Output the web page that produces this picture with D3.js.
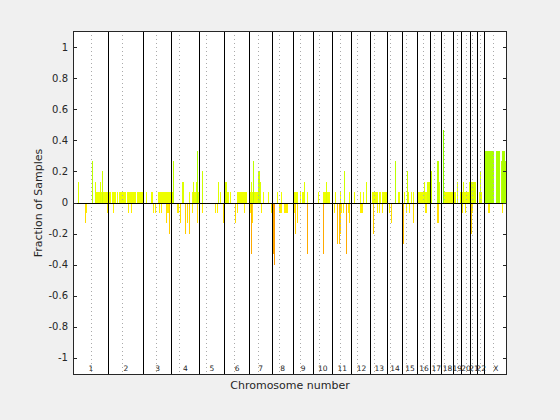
<!DOCTYPE html>
<html>
<head>
<meta charset="utf-8">
<script src="https://cdn.jsdelivr.net/npm/d3@7"></script>
<style>
  body { margin: 0; background: #f0f0f0; }
  svg { display: block; }
</style>
</head>
<body>
<svg id="chart"></svg>
<script>
// chromosome layout (hg19, Mb)
const chromNames = ["1","2","3","4","5","6","7","8","9","10","11","12","13","14","15","16","17","18","19","20","21","22","X"];
const chromLengths = [249.25, 243.20, 198.02, 191.15, 180.92, 171.12, 159.14, 146.36, 141.21, 135.53, 135.01, 133.85,
                      115.17, 107.35, 102.53, 90.35, 81.20, 78.08, 59.13, 63.03, 48.13, 51.30, 155.27];
const centromeres = [125.0, 93.3, 91.0, 50.4, 48.4, 61.0, 59.9, 45.6, 49.0, 40.2, 53.7, 35.8,
                     17.9, 17.6, 19.0, 36.6, 24.0, 17.2, 26.5, 27.5, 13.2, 14.7, 60.6];

const nSamples = 15;

// gained segments: [start Mb (genome), end Mb (genome), samples]
const gains = [
  [33, 42, 2], [133, 140, 4], [154, 159, 2], [156, 266, 1], [189, 196, 2], [203, 210, 3],
  [273, 299, 1], [310, 314, 1], [322, 369, 1], [378, 441, 1], [448, 488, 1],
  [511, 516, 1], [546, 558, 1], [593, 709, 1], [700, 707, 4], [763, 777, 2],
  [812, 817, 1], [833, 882, 1], [840, 845, 2], [861, 868, 2], [868, 875, 5], [903, 912, 3],
  [1015, 1022, 2], [1029, 1036, 1], [1066, 1078, 2], [1078, 1092, 1], [1099, 1106, 1], [1148, 1218, 1],
  [1234, 1300, 1], [1246, 1251, 2], [1258, 1265, 4], [1295, 1309, 3], [1309, 1316, 2],
  [1330, 1335, 1], [1365, 1370, 1], [1428, 1433, 1], [1456, 1461, 1],
  [1547, 1575, 1], [1589, 1596, 1], [1603, 1626, 1], [1617, 1624, 2], [1638, 1645, 1],
  [1717, 1724, 1], [1750, 1799, 1], [1771, 1778, 2],
  [1813, 1820, 1], [1834, 1841, 1], [1871, 1878, 1], [1897, 1904, 3], [1932, 1939, 1], [1946, 1953, 1],
  [1967, 1974, 1], [2009, 2016, 1], [2030, 2037, 1], [2051, 2058, 2],
  [2093, 2135, 1], [2142, 2156, 1], [2163, 2198, 1], [2254, 2261, 4], [2275, 2289, 1],
  [2317, 2324, 1], [2338, 2345, 3], [2345, 2352, 1], [2366, 2373, 1], [2380, 2387, 1],
  [2415, 2499, 1], [2457, 2464, 2], [2478, 2499, 2], [2506, 2513, 3], [2548, 2562, 4], [2562, 2569, 2],
  [2586, 2681, 1], [2586, 2593, 7], [2688, 2695, 2], [2709, 2772, 1], [2730, 2737, 2], [2772, 2821, 2],
  [2842, 2849, 1], [2849, 2856, 3], [2856, 2863, 1],
  [2884, 2947, 5], [2961, 2989, 5], [2996, 3036, 4], [3003, 3024, 5]
];

// lost segments: [start Mb (genome), end Mb (genome), samples]
const losses = [
  [84, 91, 2], [91, 98, 1], [236, 243, 1], [278, 285, 1], [385, 390, 1], [404, 408, 1],
  [560, 565, 1], [574, 579, 1], [602, 607, 1], [616, 621, 1], [651, 658, 2], [658, 670, 1], [670, 677, 3],
  [728, 742, 1], [751, 758, 2], [784, 791, 3], [798, 805, 2], [812, 819, 3], [833, 840, 1], [868, 875, 2],
  [903, 910, 1], [994, 1001, 1], [1008, 1015, 1], [1050, 1057, 2],
  [1134, 1139, 2], [1148, 1155, 1], [1197, 1204, 1],
  [1237, 1246, 1], [1246, 1253, 5], [1253, 1260, 2], [1316, 1323, 1], [1386, 1393, 1],
  [1400, 1407, 5], [1407, 1414, 6], [1442, 1463, 1], [1477, 1505, 1],
  [1547, 1554, 1], [1554, 1561, 3], [1568, 1575, 2], [1638, 1645, 5], [1750, 1757, 5],
  [1827, 1834, 1], [1848, 1855, 4], [1862, 1869, 4], [1869, 1876, 3], [1876, 1883, 1], [1890, 1897, 1],
  [1911, 1918, 5], [1925, 1932, 1], [1932, 1939, 2], [2009, 2030, 1],
  [2100, 2107, 3], [2128, 2135, 1], [2142, 2149, 1], [2163, 2170, 1],
  [2212, 2219, 1], [2226, 2233, 2], [2303, 2317, 4], [2331, 2338, 1], [2352, 2359, 1], [2380, 2387, 2],
  [2464, 2478, 1], [2548, 2562, 2], [2723, 2730, 1], [2744, 2751, 1], [2786, 2793, 3], [2793, 2800, 1],
  [2905, 2919, 1], [3003, 3010, 1]
];

const yTicks = [-1, -0.8, -0.6, -0.4, -0.2, 0, 0.2, 0.4, 0.6, 0.8, 1];

// figure / axes geometry
const width = 560, height = 420;
const axLeft = 73, axRight = 507, axTop = 31, axBottom = 374;

const svg = d3.select("#chart").attr("width", width).attr("height", height);

svg.append("rect")
    .attr("width", width).attr("height", height)
    .attr("fill", "#f0f0f0");

// axes background
svg.append("rect")
    .attr("x", axLeft).attr("y", axTop)
    .attr("width", axRight - axLeft).attr("height", axBottom - axTop)
    .attr("fill", "white");

const chromStarts = [0, ...d3.cumsum(chromLengths)];
const total = chromStarts[chromStarts.length - 1];

const x = d3.scaleLinear().domain([0, total]).range([axLeft, axRight]);
const y = d3.scaleLinear().domain([-1.105, 1.105]).range([axBottom, axTop]);
const color = d3.scaleLinear().domain([-1, 0, 1]).range(["#ff0000", "#ffff00", "#00ff00"]);

const plot = svg.append("g").attr("shape-rendering", "crispEdges");

// gains, short ones first so taller bars sit on top
plot.selectAll("rect.gain")
    .data(gains.slice().sort((a, b) => a[2] - b[2]))
    .enter()
    .append("rect")
    .attr("class", "gain")
    .attr("x", d => Math.round(x(d[0])))
    .attr("width", d => Math.max(1, Math.round(x(d[1])) - Math.round(x(d[0]))))
    .attr("y", d => y(d[2] / nSamples))
    .attr("height", d => y(0) - y(d[2] / nSamples))
    .attr("fill", d => color(d[2] / nSamples));

plot.selectAll("rect.loss")
    .data(losses.slice().sort((a, b) => a[2] - b[2]))
    .enter()
    .append("rect")
    .attr("class", "loss")
    .attr("x", d => Math.round(x(d[0])))
    .attr("width", d => Math.max(1, Math.round(x(d[1])) - Math.round(x(d[0]))))
    .attr("y", y(0))
    .attr("height", d => y(-d[2] / nSamples) - y(0))
    .attr("fill", d => color(-d[2] / nSamples));

// centromeres (dotted)
plot.selectAll("line.cen")
    .data(centromeres)
    .enter()
    .append("line")
    .attr("class", "cen")
    .attr("x1", (d, i) => Math.round(x(chromStarts[i] + d)) + 0.5)
    .attr("x2", (d, i) => Math.round(x(chromStarts[i] + d)) + 0.5)
    .attr("y1", axTop)
    .attr("y2", axBottom)
    .attr("stroke", "#aaaaaa")
    .attr("stroke-width", 1)
    .attr("stroke-dasharray", "1,3");

// chromosome boundaries
plot.selectAll("line.bound")
    .data(chromStarts.slice(1, -1))
    .enter()
    .append("line")
    .attr("class", "bound")
    .attr("x1", d => Math.floor(x(d)) + 0.5)
    .attr("x2", d => Math.floor(x(d)) + 0.5)
    .attr("y1", axTop)
    .attr("y2", axBottom)
    .attr("stroke", "black")
    .attr("stroke-width", 1);

// zero line
plot.append("line")
    .attr("x1", axLeft).attr("x2", axRight)
    .attr("y1", Math.round(y(0)) + 0.5).attr("y2", Math.round(y(0)) + 0.5)
    .attr("stroke", "black")
    .attr("stroke-width", 1.2);

// chromosome labels
svg.selectAll("text.chrom")
    .data(chromNames)
    .enter()
    .append("text")
    .attr("class", "chrom")
    .attr("x", (d, i) => x(chromStarts[i] + chromLengths[i] / 2))
    .attr("y", 371)
    .attr("text-anchor", "middle")
    .attr("font-family", "DejaVu Sans")
    .attr("font-size", "7.5px")
    .attr("fill", "#262626")
    .text(d => d);

// y ticks (inside, both sides)
const tickG = svg.append("g").attr("shape-rendering", "crispEdges");
yTicks.forEach(t => {
    const ty = Math.round(y(t)) + 0.5;
    tickG.append("line").attr("x1", axLeft).attr("x2", axLeft + 4)
        .attr("y1", ty).attr("y2", ty).attr("stroke", "#262626");
    tickG.append("line").attr("x1", axRight - 4).attr("x2", axRight)
        .attr("y1", ty).attr("y2", ty).attr("stroke", "#262626");
});

svg.selectAll("text.ytick")
    .data(yTicks)
    .enter()
    .append("text")
    .attr("class", "ytick")
    .attr("x", 68)
    .attr("y", d => y(d))
    .attr("dy", "0.35em")
    .attr("text-anchor", "end")
    .attr("font-family", "DejaVu Sans")
    .attr("font-size", "10px")
    .attr("fill", "#262626")
    .text(d => String(+d.toFixed(1)));

// axes box
svg.append("rect")
    .attr("x", axLeft + 0.5).attr("y", axTop + 0.5)
    .attr("width", axRight - axLeft - 1).attr("height", axBottom - axTop)
    .attr("fill", "none")
    .attr("stroke", "#262626")
    .attr("stroke-width", 1)
    .attr("shape-rendering", "crispEdges");

// axis titles
svg.append("text")
    .attr("x", 290)
    .attr("y", 389)
    .attr("text-anchor", "middle")
    .attr("font-family", "DejaVu Sans")
    .attr("font-size", "11px")
    .attr("fill", "#262626")
    .text("Chromosome number");

svg.append("text")
    .attr("transform", "translate(42,203) rotate(-90)")
    .attr("text-anchor", "middle")
    .attr("font-family", "DejaVu Sans")
    .attr("font-size", "11px")
    .attr("fill", "#262626")
    .text("Fraction of Samples");
</script>
</body>
</html>
